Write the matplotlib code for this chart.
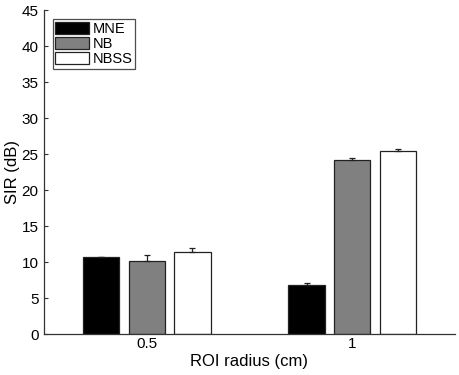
import matplotlib

matplotlib.use("Agg")

import matplotlib.pyplot as plt
import numpy as np

plt.rcParams["font.family"] = ["Liberation Sans", "DejaVu Sans"]

categories = ["0.5", "1"]
methods = ["MNE", "NB", "NBSS"]
colors = ["#000000", "#808080", "#ffffff"]
sir_means = {
    "MNE": [10.7, 6.85],
    "NB": [10.2, 24.25],
    "NBSS": [11.35, 25.5],
}
sir_errors = {
    "MNE": [0.08, 0.2],
    "NB": [0.8, 0.25],
    "NBSS": [0.65, 0.2],
}

fig = plt.figure(figsize=(4.59, 3.75), dpi=100)
ax = fig.add_axes([0.096, 0.109, 0.895, 0.864])

x = np.arange(1, len(categories) + 1)
step = 0.2222
width = 0.8 * step
for i, (name, color) in enumerate(zip(methods, colors)):
    pos = x + (i - 1) * step
    ax.bar(pos, sir_means[name], width=width, color=color, edgecolor="#222222",
           linewidth=0.9, label=name, zorder=2)
    ax.errorbar(pos, sir_means[name], yerr=[np.zeros(len(categories)), sir_errors[name]],
                fmt="none", ecolor="#222222", elinewidth=0.9, capsize=2.5,
                capthick=0.9, zorder=3)

ax.set_xlim(0.5, 2.5)
ax.set_ylim(0, 45)
ax.set_xticks(x)
ax.set_xticklabels(categories)
ax.set_yticks(np.arange(0, 46, 5))
ax.set_xlabel("ROI radius (cm)", fontsize=12, labelpad=2)
ax.set_ylabel("SIR (dB)", fontsize=12, labelpad=1)
ax.tick_params(direction="in", length=3, labelsize=11, color="#333333")
ax.tick_params(axis="y", pad=4)
ax.tick_params(axis="x", length=0, pad=2)
for side in ("top", "right"):
    ax.spines[side].set_visible(False)
for side in ("left", "bottom"):
    ax.spines[side].set_color("#333333")
    ax.spines[side].set_linewidth(0.9)

leg = ax.legend(loc="upper left", bbox_to_anchor=(0.01, 0.985), fontsize=10.5,
                frameon=True, fancybox=False, handlelength=2.3, handleheight=0.9,
                handletextpad=0.25, borderpad=0.2, labelspacing=0.05,
                borderaxespad=0.3)
leg.get_frame().set_edgecolor("#222222")
leg.get_frame().set_linewidth(0.9)

fig.savefig("out.png", dpi=100)
